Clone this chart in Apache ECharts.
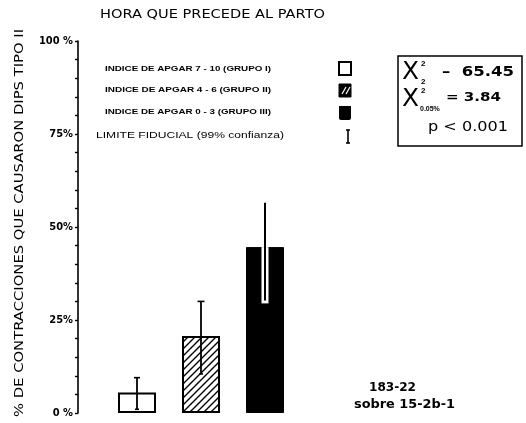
<!DOCTYPE html>
<html>
<head>
<meta charset="utf-8">
<script src="https://cdn.jsdelivr.net/npm/echarts@6/dist/echarts.min.js"></script>
<style>
  html, body { margin: 0; padding: 0; background: #fff; }
  #chart { width: 526px; height: 423px; }
</style>
</head>
<body>
<div id="chart"></div>
<script>
// Percentage of contractions causing type II dips, by Apgar group
const categories = ['GRUPO I', 'GRUPO II', 'GRUPO III'];
const pctValues = [5.5, 20.7, 44.6];
// 99% fiducial limits
const ciLow = [1, 10.5, 30];
const ciHigh = [9.5, 30, 56.5];
// y-axis labelled ticks
const yTickValues = [0, 25, 50, 75, 100];
const yTickLabels = ['0 %', '25%', '50%', '75%', '100 %'];
// legend texts
const legendLabels = [
  'INDICE DE APGAR 7 - 10 (GRUPO I)',
  'INDICE DE APGAR 4 - 6 (GRUPO II)',
  'INDICE DE APGAR 0 - 3 (GRUPO III)'
];
const ciLabel = 'LIMITE FIDUCIAL (99% confianza)';
const titleText = 'HORA QUE PRECEDE AL PARTO';
const yAxisTitle = '% DE CONTRACCIONES QUE CAUSARON DIPS TIPO II';
const chiValue = '65.45';
const chiCritical = '3.84';
const pText = 'p < 0.001';
const noteLines = ['183-22', 'sobre 15-2b-1'];

// hatch pattern for group II
function makeHatch() {
  const c = document.createElement('canvas');
  c.width = 7; c.height = 7;
  const g = c.getContext('2d');
  g.fillStyle = '#fff';
  g.fillRect(0, 0, 7, 7);
  g.strokeStyle = '#000';
  g.lineWidth = 1.4;
  g.beginPath();
  g.moveTo(-1, 8); g.lineTo(8, -1);
  g.moveTo(-1, 1); g.lineTo(1, -1);
  g.moveTo(6, 8); g.lineTo(8, 6);
  g.stroke();
  return c;
}
const hatch = { image: makeHatch(), repeat: 'repeat' };

// stretch text horizontally to fill a given width
const measureCtx = document.createElement('canvas').getContext('2d');
function fitScale(text, font, width) {
  measureCtx.font = font;
  return width / measureCtx.measureText(text).width;
}
function fitText(text, x, y, width, size, weight, family, extra) {
  const font = (weight || 'normal') + ' ' + size + 'px ' + family;
  const s = fitScale(text, font, width);
  return Object.assign({
    type: 'text', x: x, y: y, scaleX: s, scaleY: 1,
    style: { text: text, font: font, fill: '#000', verticalAlign: 'middle' }
  }, extra || {});
}

const barStyles = [
  { color: '#fff', borderColor: '#000', borderWidth: 2 },
  { color: hatch, borderColor: '#000', borderWidth: 2 },
  { color: '#000', borderColor: '#000', borderWidth: 1 }
];

const FAM = '"Liberation Sans", Arial, sans-serif';
const COND = '"DejaVu Sans Condensed", "DejaVu Sans"';

const chart = echarts.init(document.getElementById('chart'), null, { renderer: 'canvas' });

const graphics = [];
// title
graphics.push(fitText(titleText, 100, 15, 225, 13, 'normal', '"DejaVu Sans"'));
// vertical axis title
graphics.push(fitText(yAxisTitle, 20, 417, 388, 12, 'normal', '"DejaVu Sans"', { rotation: Math.PI / 2 }));
// legend rows
const legendY = [69, 90, 112];
legendLabels.forEach(function (t, i) {
  graphics.push(fitText(t, 105, legendY[i], 166, 8, 'bold', FAM));
});
graphics.push(fitText(ciLabel, 96, 136, 188, 9, 'normal', FAM));
// legend symbols
graphics.push({ type: 'rect', shape: { x: 339, y: 62, width: 12, height: 13 }, style: { fill: '#fff', stroke: '#000', lineWidth: 2 } });
graphics.push({ type: 'rect', shape: { x: 339, y: 84, width: 12, height: 13 }, style: { fill: '#000', stroke: '#000', lineWidth: 1 } });
graphics.push({ type: 'line', shape: { x1: 342, y1: 94, x2: 346, y2: 87 }, style: { stroke: '#fff', lineWidth: 1.2 } });
graphics.push({ type: 'line', shape: { x1: 346, y1: 94, x2: 350, y2: 87 }, style: { stroke: '#fff', lineWidth: 1.2 } });
graphics.push({ type: 'rect', shape: { x: 339, y: 106, width: 12, height: 14, r: [0, 0, 2, 2] }, style: { fill: '#000' } });
graphics.push({ type: 'polyline', shape: { points: [[346, 130], [348, 130], [348, 143], [346, 143]] }, style: { stroke: '#000', lineWidth: 1.6, fill: null } });
graphics.push({ type: 'line', shape: { x1: 348, y1: 130, x2: 350, y2: 130 }, style: { stroke: '#000', lineWidth: 1.6 } });
graphics.push({ type: 'line', shape: { x1: 348, y1: 143, x2: 350, y2: 143 }, style: { stroke: '#000', lineWidth: 1.6 } });
// statistics box
graphics.push({ type: 'rect', shape: { x: 398, y: 56, width: 124, height: 90 }, style: { fill: null, stroke: '#000', lineWidth: 1.5 } });
const chiRows = [73, 100];
chiRows.forEach(function (y) {
  graphics.push(fitText('X', 402, y, 17, 24, 'normal', '"DejaVu Sans"'));
  graphics.push({ type: 'text', x: 421, y: y - 9, style: { text: '2', font: 'bold 8px ' + FAM, fill: '#000', verticalAlign: 'middle' } });
});
graphics.push({ type: 'text', x: 421, y: 82, style: { text: '2', font: 'bold 8px ' + FAM, fill: '#000', verticalAlign: 'middle' } });
graphics.push({ type: 'text', x: 420, y: 109, style: { text: '0.05%', font: 'bold 7px ' + FAM, fill: '#000', verticalAlign: 'middle' } });
graphics.push(fitText('–  ' + chiValue, 442, 72, 72, 14, 'bold', COND));
graphics.push(fitText('= ' + chiCritical, 446, 98, 55, 13, 'bold', COND));
graphics.push(fitText(pText, 428, 127, 80, 14, 'normal', COND));
// footnote
graphics.push(fitText(noteLines[0], 369, 388, 47, 12, 'bold', COND));
graphics.push(fitText(noteLines[1], 354, 405, 101, 12, 'bold', COND));

const option = {
  animation: false,
  backgroundColor: '#fff',
  grid: { left: 105, width: 192, top: 41, bottom: 10, containLabel: false },
  xAxis: {
    type: 'category', data: categories,
    axisLine: { show: false }, axisTick: { show: false }, axisLabel: { show: false }, splitLine: { show: false }
  },
  yAxis: {
    type: 'value', min: 0, max: 100, interval: 5, offset: 27,
    axisLine: { show: true, lineStyle: { color: '#000', width: 1.6 } },
    axisTick: { show: true, length: 3, lineStyle: { color: '#000', width: 1.4 } },
    splitLine: { show: false },
    axisLabel: {
      margin: 5, color: '#000', fontFamily: COND, fontWeight: 'bold', fontSize: 11,
      formatter: function (v) {
        const k = yTickValues.indexOf(v);
        return k >= 0 ? yTickLabels[k] : '';
      }
    }
  },
  series: [
    {
      type: 'bar', barWidth: 38,
      data: pctValues.map(function (v, i) { return { value: v, itemStyle: barStyles[i] }; })
    },
    {
      type: 'custom',
      data: categories.map(function (c, i) { return [i, ciLow[i], ciHigh[i], pctValues[i]]; }),
      z: 5,
      renderItem: function (params, api) {
        const i = api.value(0);
        const lo = api.coord([i, api.value(1)]);
        const hi = api.coord([i, api.value(2)]);
        const top = api.coord([i, api.value(3)]);
        const x = lo[0];
        const children = [];
        if (i === 2) {
          // white halo where the limit runs inside the filled bar
          children.push({ type: 'rect', shape: { x: x - 3.5, y: top[1], width: 7, height: lo[1] - top[1] + 2 }, style: { fill: '#fff' } });
          children.push({ type: 'line', shape: { x1: x, y1: hi[1], x2: x, y2: lo[1] - 1 }, style: { stroke: '#000', lineWidth: 2 } });
        } else {
          const cap = i === 0 ? 3 : 3.5;
          children.push({ type: 'line', shape: { x1: x, y1: hi[1], x2: x, y2: lo[1] }, style: { stroke: '#000', lineWidth: 1.8 } });
          children.push({ type: 'line', shape: { x1: x - cap, y1: hi[1], x2: x + cap, y2: hi[1] }, style: { stroke: '#000', lineWidth: 1.6 } });
          children.push({ type: 'line', shape: { x1: x - 2, y1: lo[1], x2: x + 2, y2: lo[1] }, style: { stroke: '#000', lineWidth: 1.6 } });
        }
        return { type: 'group', children: children };
      }
    }
  ],
  graphic: graphics
};
chart.setOption(option);
</script>
</body>
</html>
